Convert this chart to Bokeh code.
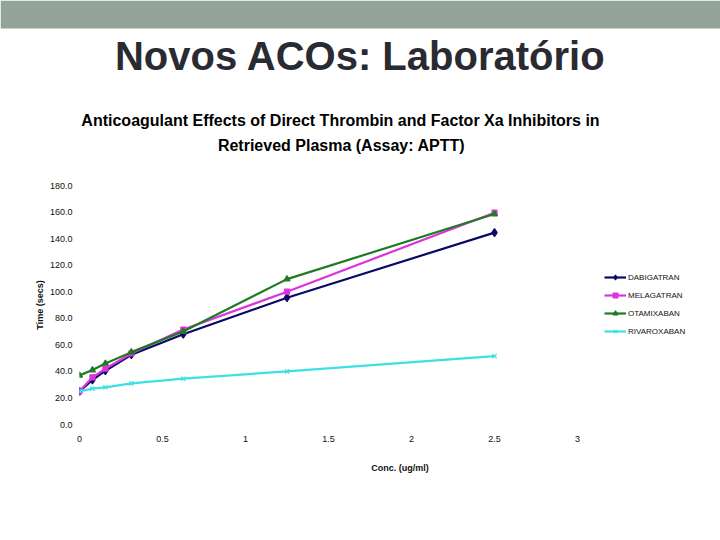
from bokeh.plotting import figure
from bokeh.layouts import column
from bokeh.models import Range1d, FixedTicker, NumeralTickFormatter, Legend
from bokeh.core.properties import value
from bokeh.embed import file_html
from bokeh.resources import INLINE

# APTT clotting time (secs) versus drug concentration (ug/ml)
conc = [0, 0.078, 0.156, 0.3125, 0.625, 1.25, 2.5]
dabigatran = [25, 33.5, 40.5, 52.5, 68, 95.5, 144.5]
melagatran = [25, 35.5, 42, 53.5, 71.5, 100, 159.5]
otamixaban = [37, 41, 46, 54.5, 70, 109.5, 158.5]
rivaroxaban = [25, 27, 28, 31, 34.5, 40, 51.5]

x_ticks = [0, 0.5, 1, 1.5, 2, 2.5, 3]
y_ticks = [0, 20, 40, 60, 80, 100, 120, 140, 160, 180]

slide_title = "Novos ACOs: Laboratório"
chart_title = ["Anticoagulant Effects of Direct Thrombin and Factor Xa Inhibitors in",
               "Retrieved Plasma (Assay: APTT)"]

SANS = "Liberation Sans, Arial, sans-serif"

# ---- slide header: band, slide title and chart title -------------------
head = figure(width=720, height=160, x_range=Range1d(0, 720), y_range=Range1d(160, 0),
              x_axis_type=None, y_axis_type=None, toolbar_location=None,
              output_backend="svg", min_border=0, outline_line_color=None)
head.frame_align = False
head.grid.visible = False
head.quad(left=[0], right=[720], top=[0], bottom=[28], fill_color="#93a39a", line_color=None)
head.text(x=[360], y=[55], text=[slide_title], text_font=value(SANS), text_font_style="bold",
          text_font_size="40px", text_color="#2a2a33", text_align="center",
          text_baseline="middle")
head.text(x=[340, 341], y=[120, 145], text=chart_title, text_font=value(SANS),
          text_font_style="bold", text_font_size="16px", text_color="#000000",
          text_align="center", text_baseline="middle")

# ---- chart ---------------------------------------------------------------
p = figure(width=720, height=380, x_range=Range1d(0, 641 / 166), y_range=Range1d(0, 180),
           toolbar_location=None, output_backend="svg",
           min_border_left=79, min_border_right=0, min_border_top=25, min_border_bottom=116,
           outline_line_color=None)
p.frame_align = False
p.grid.visible = False

series = [
    ("DABIGATRAN", dabigatran, "#0a0a66", "diamond", 8),
    ("MELAGATRAN", melagatran, "#dd33dd", "square", 5),
    ("OTAMIXABAN", otamixaban, "#1e7a23", "triangle", 6),
    ("RIVAROXABAN", rivaroxaban, "#3ee0e4", "x", 6),
]
items = []
for name, ys, color, marker, size in series:
    r1 = p.line(conc, ys, line_color=color, line_width=2.2)
    r2 = p.scatter(conc, ys, marker=marker, size=size, fill_color=color,
                   line_color=color, line_width=1.2)
    items.append((name, [r1, r2]))

legend = Legend(items=items, location=(525, 87), orientation="vertical",
                padding=0, margin=0, spacing=6, glyph_width=22, glyph_height=12,
                label_height=12, label_standoff=2, border_line_color=None,
                background_fill_alpha=0, label_text_font=SANS,
                label_text_font_size="8px", label_text_color="#111111")
p.add_layout(legend)

for ax in (p.xaxis[0], p.yaxis[0]):
    ax.axis_line_color = None
    ax.major_tick_line_color = None
    ax.minor_tick_line_color = None
    ax.major_tick_out = 0
    ax.major_tick_in = 0
    ax.major_label_text_font = SANS
    ax.major_label_text_font_size = "9px"
    ax.major_label_text_color = "#111111"
    ax.axis_label_text_font = SANS
    ax.axis_label_text_font_style = "bold"
    ax.axis_label_text_font_size = "9px"
    ax.axis_label_text_color = "#111111"

p.xaxis.ticker = FixedTicker(ticks=x_ticks)
p.xaxis.formatter = NumeralTickFormatter(format="0.[0]")
p.xaxis.major_label_standoff = 11
p.xaxis.axis_label = "Conc. (ug/ml)"
p.xaxis.axis_label_standoff = 18

p.yaxis.ticker = FixedTicker(ticks=y_ticks)
p.yaxis.formatter = NumeralTickFormatter(format="0.0")
p.yaxis.major_label_standoff = 7
p.yaxis.axis_label = "Time (secs)"
p.yaxis.axis_label_standoff = 2

layout = column(head, p, spacing=0)
open("out.html", "w").write(file_html(layout, INLINE))
